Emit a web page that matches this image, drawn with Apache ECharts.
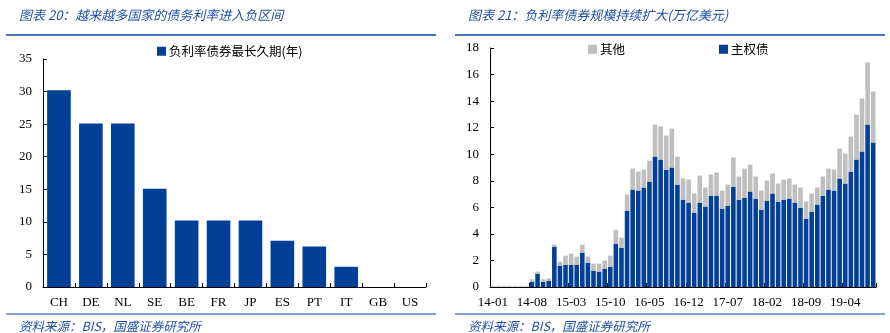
<!DOCTYPE html>
<html>
<head>
<meta charset="utf-8">
<script src="https://cdn.jsdelivr.net/npm/echarts@6/dist/echarts.min.js"></script>
<style>
html,body{margin:0;padding:0;background:#fff;}
#c{width:890px;height:333px;}
</style>
</head>
<body>
<div id="c"></div>
<script>
// Left chart data
const countries = ['CH','DE','NL','SE','BE','FR','JP','ES','PT','IT','GB','US'];
const maxMaturity = [30.2, 25.1, 25.1, 15.1, 10.2, 10.2, 10.2, 7.1, 6.2, 3.1, 0, 0];
const leftTicks = [0, 5, 10, 15, 20, 25, 30, 35];

// Right chart data (monthly, 14-01 .. 19-09)
const months = [];
for (let y = 14; y <= 19; y++) {
  for (let m = 1; m <= 12; m++) {
    if (y === 19 && m > 9) break;
    months.push(y + '-' + (m < 10 ? '0' + m : '' + m));
  }
}
const sovereign = [
  0,0,0,0,0,0,0,0.40,1.00,0.40,0.48,3.04,
  1.61,1.68,1.68,1.68,2.59,1.83,1.23,1.16,1.38,1.53,3.27,2.96,
  5.75,7.34,7.26,7.49,7.94,9.82,9.60,8.84,9.00,7.71,6.58,6.36,
  5.60,6.36,6.06,6.88,6.88,5.90,6.13,7.56,6.58,6.73,7.19,6.66,
  5.83,6.51,7.04,6.43,6.58,6.66,6.36,5.98,5.15,5.68,6.21,6.88,
  7.34,7.26,8.17,7.79,8.69,9.60,10.20,12.24,10.88
];
const others = [
  0.06,0.06,0.06,0.06,0.06,0.06,0.06,0.18,0.16,0.18,0.17,0.15,
  0.30,0.68,0.83,0.61,0.60,0.46,0.53,0.60,0.60,0.83,1.05,0.76,
  1.21,1.58,1.43,1.35,1.58,2.42,2.49,2.57,2.93,2.11,1.59,1.73,
  1.44,2.03,1.43,1.59,1.74,1.36,1.58,2.19,1.74,2.19,2.03,1.66,
  1.43,1.51,1.50,1.36,1.51,1.51,1.35,1.51,1.28,1.36,1.28,1.44,
  1.58,1.58,2.26,2.26,2.64,3.39,4.00,4.67,3.84
];
const rightTicks = [0, 2, 4, 6, 8, 10, 12, 14, 16, 18];

const BLUE = '#023f97';
const GRAY = '#bfbfbf';
const TITLE_BLUE = '#1f4e9e';
const LINE_BLUE = '#0b479b';
const serif = '"Liberation Serif","Times New Roman",serif';
const cjk = '"Noto Sans CJK SC",sans-serif';

const chart = echarts.init(document.getElementById('c'), null, {renderer: 'canvas'});

function yAxisCfg(gridIndex, ticks) {
  return {
    type: 'value', gridIndex: gridIndex,
    min: ticks[0], max: ticks[ticks.length - 1], interval: ticks[1] - ticks[0],
    splitLine: {show: false},
    axisLine: {show: true, lineStyle: {color: '#000', width: 1}},
    axisTick: {show: true, inside: true, length: 4, lineStyle: {color: '#000'}},
    axisLabel: {color: '#000', fontFamily: serif, fontSize: 13, margin: 11}
  };
}

const titleStyle = {color: TITLE_BLUE, fontFamily: cjk, fontStyle: 'italic', fontWeight: 'normal', fontSize: 13};
const footStyle = {color: TITLE_BLUE, fontFamily: cjk, fontStyle: 'italic', fontWeight: 'normal', fontSize: 12.5};
const legText = {fontFamily: cjk, fontSize: 12.5, color: '#000', padding: [0,0,0,-2]};

chart.setOption({
  animation: false,
  backgroundColor: '#fff',
  title: [
    {text: '图表 20：越来越多国家的债务利率进入负区间', left: 14, top: 4, textStyle: titleStyle},
    {text: '图表 21：负利率债券规模持续扩大(万亿美元)', left: 463, top: 4, textStyle: titleStyle},
    {text: '资料来源：BIS，国盛证券研究所', left: 14, top: 315, textStyle: footStyle},
    {text: '资料来源：BIS，国盛证券研究所', left: 463, top: 315, textStyle: footStyle}
  ],
  graphic: [
    {type: 'line', shape: {x1: 6, y1: 35, x2: 436, y2: 35}, style: {stroke: LINE_BLUE, lineWidth: 1.5}},
    {type: 'line', shape: {x1: 455, y1: 35, x2: 885, y2: 35}, style: {stroke: LINE_BLUE, lineWidth: 1.5}},
    {type: 'line', shape: {x1: 6, y1: 314, x2: 436, y2: 314}, style: {stroke: LINE_BLUE, lineWidth: 1}},
    {type: 'line', shape: {x1: 455, y1: 314, x2: 885, y2: 314}, style: {stroke: LINE_BLUE, lineWidth: 1}}
  ],
  legend: [
    {data: ['负利率债券最长久期(年)'], left: 152, top: 40, itemWidth: 9, itemHeight: 9,
     icon: 'rect', textStyle: legText},
    {data: ['其他'], left: 583, top: 38, itemWidth: 9, itemHeight: 9,
     icon: 'rect', textStyle: legText},
    {data: ['主权债'], left: 714, top: 38, itemWidth: 9, itemHeight: 9,
     icon: 'rect', textStyle: legText}
  ],
  grid: [
    {left: 43, top: 59, width: 383, height: 228},
    {left: 490, top: 48, width: 386, height: 239}
  ],
  xAxis: [
    {type: 'category', gridIndex: 0, data: countries,
     axisLine: {lineStyle: {color: '#000', width: 1}},
     axisTick: {show: true, inside: true, length: 4, lineStyle: {color: '#000'}},
     axisLabel: {color: '#000', fontFamily: serif, fontSize: 13, margin: 9}},
    {type: 'category', gridIndex: 1, data: months,
     axisLine: {lineStyle: {color: '#000', width: 1}},
     axisTick: {show: true, inside: true, length: 4, interval: 6, lineStyle: {color: '#000'}},
     axisLabel: {color: '#000', fontFamily: serif, fontSize: 13, margin: 9, interval: 6}}
  ],
  yAxis: [yAxisCfg(0, leftTicks), yAxisCfg(1, rightTicks)],
  series: [
    {name: '负利率债券最长久期(年)', type: 'bar', xAxisIndex: 0, yAxisIndex: 0,
     data: maxMaturity, barCategoryGap: '26%', itemStyle: {color: BLUE}},
    {name: '主权债', type: 'bar', xAxisIndex: 1, yAxisIndex: 1, stack: 'neg',
     data: sovereign, barCategoryGap: '18%', itemStyle: {color: BLUE}},
    {name: '其他', type: 'bar', xAxisIndex: 1, yAxisIndex: 1, stack: 'neg',
     data: others, barCategoryGap: '18%', itemStyle: {color: GRAY}}
  ]
});
</script>
</body>
</html>
